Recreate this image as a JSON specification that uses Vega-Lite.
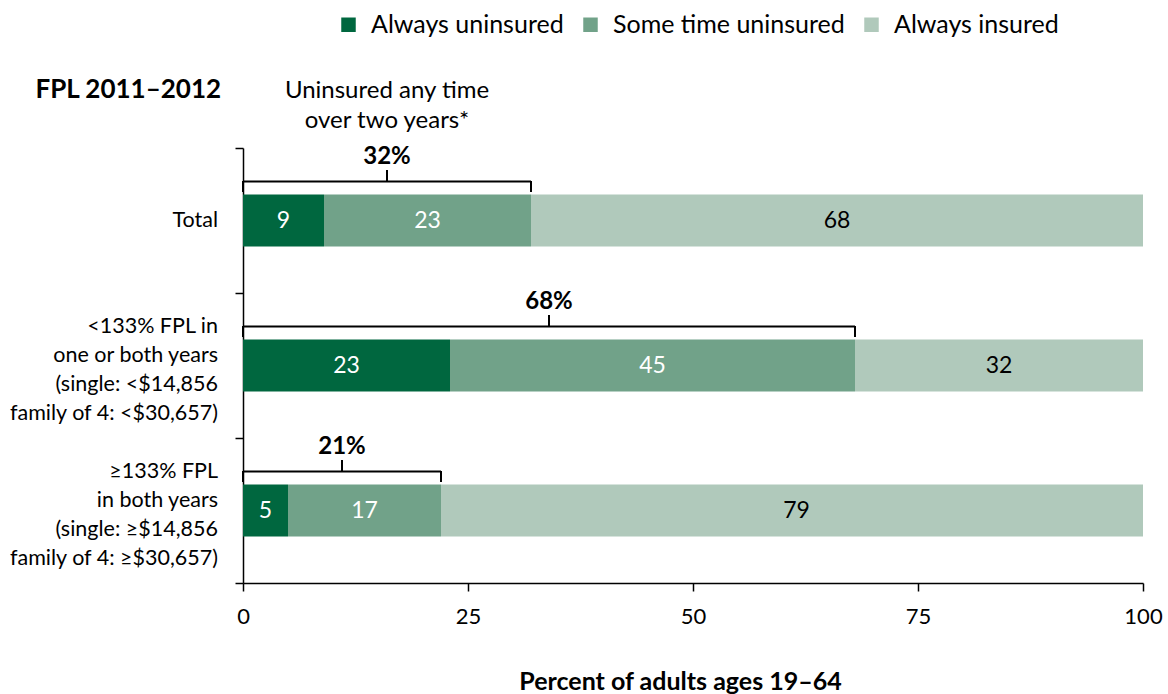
{
  "$schema": "https://vega.github.io/schema/vega-lite/v6.json",
  "width": 900,
  "height": 435,
  "autosize": "none",
  "padding": {"left": 243, "top": 148, "right": 25, "bottom": 111},
  "background": "white",
  "config": {"font": "Lato", "view": {"stroke": null}},
  "datasets": {
    "bars": [
      {"cat": "Total", "seg": "Always uninsured", "order": 1, "value": 9},
      {"cat": "Total", "seg": "Some time uninsured", "order": 2, "value": 23},
      {"cat": "Total", "seg": "Always insured", "order": 3, "value": 68},
      {"cat": "<133% FPL in|one or both years|(single: <$14,856|family of 4: <$30,657)", "seg": "Always uninsured", "order": 1, "value": 23},
      {"cat": "<133% FPL in|one or both years|(single: <$14,856|family of 4: <$30,657)", "seg": "Some time uninsured", "order": 2, "value": 45},
      {"cat": "<133% FPL in|one or both years|(single: <$14,856|family of 4: <$30,657)", "seg": "Always insured", "order": 3, "value": 32},
      {"cat": "≥133% FPL|in both years|(single: ≥$14,856|family of 4: ≥$30,657)", "seg": "Always uninsured", "order": 1, "value": 5},
      {"cat": "≥133% FPL|in both years|(single: ≥$14,856|family of 4: ≥$30,657)", "seg": "Some time uninsured", "order": 2, "value": 17},
      {"cat": "≥133% FPL|in both years|(single: ≥$14,856|family of 4: ≥$30,657)", "seg": "Always insured", "order": 3, "value": 79}
    ],
    "brackets": [
      {"cat": "Total", "pct": 32, "start": 0, "end": 32, "note": "Uninsured any time|over two years*"},
      {"cat": "<133% FPL in|one or both years|(single: <$14,856|family of 4: <$30,657)", "pct": 68, "start": 0, "end": 68, "note": ""},
      {"cat": "≥133% FPL|in both years|(single: ≥$14,856|family of 4: ≥$30,657)", "pct": 21, "start": 0, "end": 22, "note": ""}
    ]
  },
  "encoding": {
    "y": {
      "field": "cat",
      "type": "nominal",
      "sort": [
        "Total",
        "<133% FPL in|one or both years|(single: <$14,856|family of 4: <$30,657)",
        "≥133% FPL|in both years|(single: ≥$14,856|family of 4: ≥$30,657)"
      ],
      "scale": {"paddingInner": 0, "paddingOuter": 0},
      "axis": {
        "title": "FPL 2011–2012",
        "titleAngle": 0,
        "titleX": -208,
        "titleY": -51,
        "titleAlign": "left",
        "titleBaseline": "alphabetic",
        "titleFontSize": 26,
        "titleFontWeight": "bold",
        "titleColor": "black",
        "labels": false,
        "tickSize": 8,
        "tickBand": "extent",
        "tickColor": "black",
        "tickWidth": 1.5,
        "domainColor": "black",
        "domainWidth": 1.5,
        "grid": false
      }
    }
  },
  "layer": [
    {
      "data": {"name": "bars"},
      "transform": [
        {"stack": "value", "groupby": ["cat"], "sort": [{"field": "order", "order": "ascending"}], "as": ["x0", "x1"]},
        {"calculate": "(datum.x0 + datum.x1) / 2", "as": "mid"}
      ],
      "layer": [
        {
          "mark": {"type": "bar", "height": {"band": 0.36}},
          "encoding": {
            "x": {
              "field": "x0",
              "type": "quantitative",
              "scale": {"domain": [0, 100], "clamp": true},
              "axis": {
                "values": [0, 25, 50, 75, 100],
                "title": "Percent of adults ages 19–64",
                "titleFontSize": 25,
                "titleFontWeight": "bold",
                "titleColor": "black",
                "titleX": 437,
                "titleY": 106,
                "titleAlign": "center",
                "titleBaseline": "alphabetic",
                "labelFontSize": 22,
                "labelPadding": 15,
                "labelFlush": false,
                "labelColor": "black",
                "tickSize": 8,
                "tickColor": "black",
                "tickWidth": 1.5,
                "domainColor": "black",
                "domainWidth": 1.5,
                "grid": false
              }
            },
            "x2": {"field": "x1"},
            "color": {
              "field": "seg",
              "type": "nominal",
              "scale": {
                "domain": ["Always uninsured", "Some time uninsured", "Always insured"],
                "range": ["#00673f", "#71a289", "#b0c9bb"]
              },
              "legend": {
                "orient": "none",
                "legendX": 93,
                "legendY": -136,
                "direction": "horizontal",
                "title": null,
                "symbolType": "square",
                "symbolSize": 210,
                "symbolStrokeWidth": 0,
                "symbolOpacity": 1,
                "labelFontSize": 25,
                "labelOffset": 10,
                "labelLimit": 400,
                "labelColor": "black",
                "columnPadding": 14
              }
            }
          }
        },
        {
          "mark": {"type": "text", "fontSize": 23, "baseline": "middle"},
          "encoding": {
            "x": {"field": "mid", "type": "quantitative"},
            "text": {"field": "value", "type": "quantitative"},
            "color": {
              "condition": {"test": "datum.seg === 'Always insured'", "value": "black"},
              "value": "white"
            }
          }
        }
      ]
    },
    {
      "data": {"name": "brackets"},
      "transform": [
        {"calculate": "datum.end / 2", "as": "mid"},
        {"calculate": "datum.pct + '%'", "as": "label"}
      ],
      "layer": [
        {
          "transform": [{"filter": "indexof(datum.cat, '|') < 0"}],
          "mark": {"type": "text", "fontSize": 21.5, "align": "right", "baseline": "middle", "dx": -25, "color": "black"},
          "encoding": {
            "x": {"field": "start", "type": "quantitative"},
            "text": {"field": "cat", "type": "nominal"}
          }
        },
        {
          "transform": [{"filter": "indexof(datum.cat, '|') >= 0"}],
          "mark": {"type": "text", "fontSize": 21.5, "align": "right", "baseline": "middle", "dx": -25, "yOffset": -38.5, "lineBreak": "|", "lineHeight": 29, "color": "black"},
          "encoding": {
            "x": {"field": "start", "type": "quantitative"},
            "text": {"field": "cat", "type": "nominal"}
          }
        },
        {
          "mark": {"type": "rule", "yOffset": -39, "strokeWidth": 2, "color": "black"},
          "encoding": {
            "x": {"field": "start", "type": "quantitative"},
            "x2": {"field": "end"}
          }
        },
        {
          "mark": {"type": "tick", "yOffset": -34, "size": 11, "thickness": 2, "color": "black", "opacity": 1},
          "encoding": {
            "x": {"field": "start", "type": "quantitative"}
          }
        },
        {
          "mark": {"type": "tick", "yOffset": -34, "size": 11, "thickness": 2, "color": "black", "opacity": 1},
          "encoding": {
            "x": {"field": "end", "type": "quantitative"}
          }
        },
        {
          "mark": {"type": "tick", "yOffset": -45, "size": 11, "thickness": 2, "color": "black", "opacity": 1},
          "encoding": {
            "x": {"field": "mid", "type": "quantitative"}
          }
        },
        {
          "mark": {"type": "text", "yOffset": -64, "fontSize": 24, "fontWeight": "bold", "baseline": "middle", "color": "black"},
          "encoding": {
            "x": {"field": "mid", "type": "quantitative"},
            "text": {"field": "label", "type": "nominal"}
          }
        },
        {
          "mark": {"type": "text", "yOffset": -130, "fontSize": 24, "baseline": "middle", "lineBreak": "|", "lineHeight": 30, "color": "black"},
          "encoding": {
            "x": {"field": "mid", "type": "quantitative"},
            "text": {"field": "note", "type": "nominal"}
          }
        }
      ]
    }
  ]
}
